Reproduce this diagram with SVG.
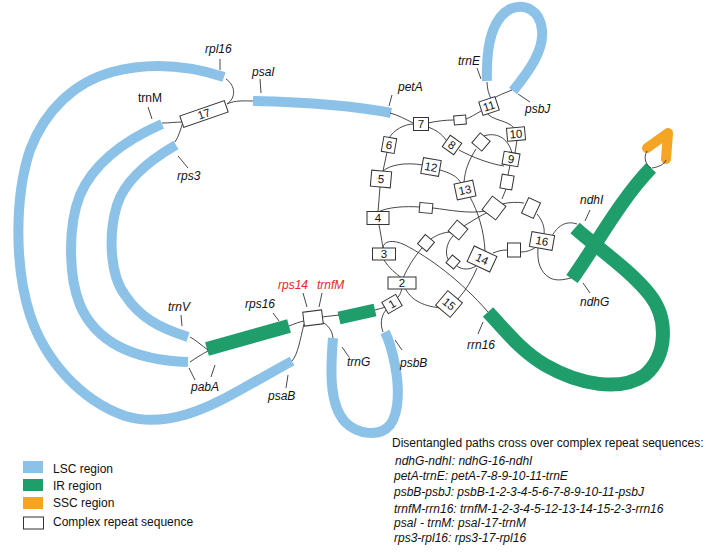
<svg xmlns="http://www.w3.org/2000/svg" width="707" height="553" viewBox="0 0 707 553">
<style>
.lsc{fill:none;stroke:#8cc2e8;stroke-width:10}
.ir{fill:none;stroke:#1f9e6c;stroke-width:14}
.ssc{fill:none;stroke:#f5a524;stroke-width:10;stroke-linecap:round;stroke-linejoin:round}
.bx rect{fill:#fff;stroke:#333;stroke-width:1}
.bx text{font-family:"Liberation Sans",Arial,sans-serif;font-size:11.5px;text-anchor:middle;fill:#111}
.conn path{fill:none;stroke:#333;stroke-width:0.9}
.tick{stroke:#333;stroke-width:0.9}
.lbl{font-family:"Liberation Sans",Arial,sans-serif;font-size:12px;font-style:italic;fill:#111}
.up{font-style:normal}
.red{fill:#e8281e}
.txt{font-family:"Liberation Sans",Arial,sans-serif;font-size:12px;fill:#111}
</style>
<rect width="707" height="553" fill="#fff"/>

<!-- strands -->
<g id="lsc-outer"><path class="lsc" d="M224,77 C190,66 150,62 112,72 C75,82 45,110 30,150 C15,195 14,265 30,315 C45,360 80,400 125,416 C165,428 205,410 240,390 L292,361"/></g>
<g id="lsc-middle"><path class="lsc" d="M162,124 C130,138 95,160 80,195 C68,225 68,275 80,305 C95,340 130,360 188,362"/></g>
<g id="lsc-inner"><path class="lsc" d="M176,145 C150,160 125,180 117,205 C108,235 110,275 125,295 C140,318 160,328 188,337"/></g>
<g id="lsc-psaI"><path class="lsc" d="M253,101 C300,102 350,105 391,113"/></g>
<g id="lsc-trnE-psbJ"><path class="lsc" d="M487,81 C486,50 490,20 510,9 C525,3 540,10 542,30 C544,50 530,70 513,91"/></g>
<g id="lsc-trnG-psbB"><path class="lsc" d="M333,338 C330,375 330,405 345,422 C358,435 380,437 390,425 C400,412 399,385 395,365 C392,350 389,340 385,332"/></g>
<g id="ir-rps16"><path class="ir" d="M207,349 L289,326"/></g>
<g id="ir-trnfM"><path class="ir" style="stroke-width:13" d="M339,318 L375,310"/></g>
<g id="ir-rrn16-ndhI"><path class="ir" d="M575,228 C600,250 630,270 650,295 C668,318 668,355 645,375 C620,392 580,385 545,365 C520,350 505,330 488,312"/></g>
<g id="ir-ndhG"><path class="ir" d="M572,279 C595,247 620,200 651,168"/></g>
<g id="ssc"><path class="ssc" d="M647,148 L668,133 L666,159"/></g>

<!-- connectors -->
<g id="connectors" class="conn">
<path d="M226,79 C236,86 236,98 227,104"/>
<path d="M227,104 C235,100 245,101 253,101"/>
<path d="M162,123 C170,123 176,122 182,122"/>
<path d="M175,142 C179,136 181,128 183,122"/>
<path d="M390,113 C398,115 405,119 413,123"/>
<path d="M428,123 C437,121 446,120 454,120"/>
<path d="M466,119 C471,117 476,114 481,111"/>
<path d="M487,82 C487,89 489,94 491,99"/>
<path d="M512,90 C505,93 498,95 493,99"/>
<path d="M486,112 C492,121 508,120 514,128"/>
<path d="M414,124 C404,124 394,130 389,138"/>
<path d="M387,152 L383,171"/>
<path d="M428,127 C436,130 442,134 446,140"/>
<path d="M459,150 C472,157 490,164 504,166"/>
<path d="M484,136 C495,132 508,137 512,153"/>
<path d="M515,153 L517,140"/>
<path d="M510,165 L508,175"/>
<path d="M506,189 L502,199"/>
<path d="M476,149 C469,160 465,170 464,182"/>
<path d="M383,171 C390,165 405,162 423,165"/>
<path d="M440,170 C450,173 457,176 461,183"/>
<path d="M470,197 C478,212 484,230 485,251"/>
<path d="M380,187 L378,212"/>
<path d="M378,212 C388,207 405,206 420,207"/>
<path d="M433,208 C450,210 468,214 485,211"/>
<path d="M379,225 C381,235 382,242 383,248"/>
<path d="M384,260 C389,268 396,274 402,278"/>
<path d="M383,248 C383,241 393,239 405,245 C430,258 460,280 488,312"/>
<path d="M403,278 C408,267 414,257 422,248"/>
<path d="M431,239 C438,234 445,232 452,232"/>
<path d="M464,226 C472,221 480,216 488,212"/>
<path d="M453,236 C446,243 444,256 450,262"/>
<path d="M457,266 C462,270 470,270 476,266"/>
<path d="M493,253 C498,251 502,250 507,250"/>
<path d="M521,252 C527,252 532,250 536,247"/>
<path d="M477,268 C472,280 466,290 458,299"/>
<path d="M405,288 C410,298 420,306 441,308"/>
<path d="M402,288 C401,293 399,297 396,299"/>
<path d="M502,204 C510,202 517,202 524,203"/>
<path d="M537,214 C542,220 545,227 544,234"/>
<path d="M552,236 C557,227 565,220 577,224"/>
<path d="M538,248 C537,262 540,272 550,278 C556,281 563,280 571,278"/>
<path d="M375,310 C379,309 382,308 386,307"/>
<path d="M386,310 C381,316 380,324 383,332"/>
<path d="M190,337 C196,340 202,346 208,350"/>
<path d="M190,362 C196,358 202,354 208,351"/>
<path d="M289,326 C294,324 299,322 304,321"/>
<path d="M292,361 C298,354 300,340 304,324"/>
<path d="M322,317 L339,315"/>
<path d="M322,322 C328,325 332,330 333,338"/>
<path d="M647,151 C643,158 646,165 651,168"/>
<path d="M666,160 C664,165 658,167 652,168"/>
</g>

<!-- repeat boxes -->
<g id="r1" class="bx" transform="translate(392,304) rotate(-30)"><rect x="-8" y="-6.5" width="16" height="13"/><text y="4">1</text></g>
<g id="r2" class="bx" transform="translate(402,283)"><rect x="-14" y="-6" width="28" height="12"/><text y="4">2</text></g>
<g id="r3" class="bx" transform="translate(384,254)"><rect x="-11.5" y="-6" width="23" height="12"/><text y="4">3</text></g>
<g id="r4" class="bx" transform="translate(378,218)"><rect x="-11" y="-6.5" width="22" height="13"/><text y="4">4</text></g>
<g id="r5" class="bx" transform="translate(381,179) rotate(5)"><rect x="-10" y="-8" width="20" height="16"/><text y="4">5</text></g>
<g id="r6" class="bx" transform="translate(389,145) rotate(10)"><rect x="-6.5" y="-7.5" width="13" height="15"/><text y="4">6</text></g>
<g id="r7" class="bx" transform="translate(421,124)"><rect x="-7.5" y="-6.5" width="15" height="13"/><text y="4">7</text></g>
<g id="r8" class="bx" transform="translate(452,145) rotate(35)"><rect x="-7" y="-7" width="14" height="14"/><text y="4">8</text></g>
<g id="r9" class="bx" transform="translate(511,159) rotate(10)"><rect x="-8" y="-6.5" width="16" height="13"/><text y="4">9</text></g>
<g id="r10" class="bx" transform="translate(516,134) rotate(-5)"><rect x="-9" y="-6.5" width="18" height="13"/><text y="4">10</text></g>
<g id="r11" class="bx" transform="translate(489,106) rotate(-18)"><rect x="-8.5" y="-7" width="17" height="14"/><text y="4">11</text></g>
<g id="r12" class="bx" transform="translate(431,167) rotate(10)"><rect x="-9" y="-8" width="18" height="16"/><text y="4">12</text></g>
<g id="r13" class="bx" transform="translate(465,190) rotate(-12)"><rect x="-9.5" y="-8" width="19" height="16"/><text y="4">13</text></g>
<g id="r14" class="bx" transform="translate(482,259) rotate(25)"><rect x="-12.5" y="-8.5" width="25" height="17"/><text y="4">14</text></g>
<g id="r15" class="bx" transform="translate(449,304) rotate(40)"><rect x="-9.5" y="-9.5" width="19" height="19"/><text y="4">15</text></g>
<g id="r16" class="bx" transform="translate(542,241) rotate(10)"><rect x="-11.5" y="-7.5" width="23" height="15"/><text y="4">16</text></g>
<g id="r17" class="bx" transform="translate(204,114) rotate(-19)"><rect x="-23.5" y="-6" width="47" height="12"/><text y="4">17</text></g>
<g id="rA" class="bx" transform="translate(313,318) rotate(-7)"><rect x="-9.5" y="-7" width="19" height="14"/></g>
<g id="u1" class="bx" transform="translate(460,120) rotate(-5)"><rect x="-6" y="-4.5" width="12" height="9"/></g>
<g id="u2" class="bx" transform="translate(481,142) rotate(40)"><rect x="-6.5" y="-6.5" width="13" height="13"/></g>
<g id="u3" class="bx" transform="translate(507,182) rotate(10)"><rect x="-6" y="-7" width="12" height="14"/></g>
<g id="u4" class="bx" transform="translate(426,208) rotate(5)"><rect x="-6.5" y="-5" width="13" height="10"/></g>
<g id="u5" class="bx" transform="translate(494,208) rotate(37)"><rect x="-8.5" y="-8.5" width="17" height="17"/></g>
<g id="u6" class="bx" transform="translate(531,208) rotate(25)"><rect x="-6.5" y="-8.5" width="13" height="17"/></g>
<g id="u7" class="bx" transform="translate(458,230) rotate(40)"><rect x="-7" y="-7" width="14" height="14"/></g>
<g id="u8" class="bx" transform="translate(426,243) rotate(40)"><rect x="-6" y="-6" width="12" height="12"/></g>
<g id="u9" class="bx" transform="translate(453,262) rotate(40)"><rect x="-5" y="-5" width="10" height="10"/></g>
<g id="u10" class="bx" transform="translate(514,250)"><rect x="-6.5" y="-7" width="13" height="14"/></g>

<!-- gene labels -->
<g id="labels">
<line class="tick" x1="220" y1="59" x2="220" y2="70"/><text class="lbl" x="205" y="53">rpl16</text>
<line class="tick" x1="260" y1="79" x2="261" y2="93"/><text class="lbl" x="252" y="76">psaI</text>
<line class="tick" x1="148" y1="107" x2="152" y2="119"/><text class="lbl up" x="138" y="102">trnM</text>
<line class="tick" x1="178" y1="156" x2="188" y2="168"/><text class="lbl" x="177" y="180">rps3</text>
<line class="tick" x1="392" y1="95" x2="389" y2="106"/><text class="lbl" x="398" y="91">petA</text>
<line class="tick" x1="477" y1="68" x2="481" y2="79"/><text class="lbl" x="480" y="65" text-anchor="end">trnE</text>
<line class="tick" x1="518" y1="94" x2="530" y2="102"/><text class="lbl" x="525" y="113">psbJ</text>
<line class="tick" x1="181" y1="315" x2="182" y2="326"/><text class="lbl" x="168" y="311">trnV</text>
<line class="tick" x1="189" y1="368" x2="195" y2="380"/><line class="tick" x1="215" y1="365" x2="211" y2="377"/><text class="lbl" x="191" y="391">pabA</text>
<line class="tick" x1="273" y1="313" x2="279" y2="321"/><text class="lbl" x="245" y="308">rps16</text>
<line class="tick" x1="303" y1="293" x2="307" y2="307"/><text class="lbl red" x="278" y="289">rps14</text>
<line class="tick" x1="322" y1="293" x2="319" y2="307"/><text class="lbl red" x="317" y="289">trnfM</text>
<line class="tick" x1="342" y1="347" x2="349" y2="357"/><text class="lbl" x="347" y="366">trnG</text>
<line class="tick" x1="395" y1="340" x2="402" y2="350"/><text class="lbl" x="400" y="367">psbB</text>
<line class="tick" x1="288" y1="375" x2="286" y2="388"/><text class="lbl" x="268" y="400">psaB</text>
<line class="tick" x1="483" y1="322" x2="478" y2="334"/><text class="lbl" x="467" y="349">rrn16</text>
<line class="tick" x1="590" y1="210" x2="585" y2="221"/><text class="lbl" x="580" y="204">ndhI</text>
<line class="tick" x1="583" y1="283" x2="590" y2="293"/><text class="lbl" x="580" y="306">ndhG</text>
</g>

<!-- legend -->
<g id="legend" class="txt">
<rect x="23" y="461" width="20" height="12" fill="#8cc2e8"/><text x="53" y="473">LSC region</text>
<rect x="23" y="479" width="20" height="12" fill="#1f9e6c"/><text x="53" y="490">IR region</text>
<rect x="23" y="497" width="20" height="12" fill="#f5a524"/><text x="53" y="507">SSC region</text>
<rect x="23.5" y="517" width="20" height="12" fill="#fff" stroke="#333" stroke-width="1"/><text x="53" y="526">Complex repeat sequence</text>
</g>

<!-- paths text -->
<g id="paths-note" class="txt">
<text x="392" y="447">Disentangled paths cross over complex repeat sequences:</text>
<text x="395" y="465" font-style="italic">ndhG-ndhI: ndhG-16-ndhI</text>
<text x="394" y="480" font-style="italic">petA-trnE: petA-7-8-9-10-11-trnE</text>
<text x="394" y="496" font-style="italic">psbB-psbJ: psbB-1-2-3-4-5-6-7-8-9-10-11-psbJ</text>
<text x="394" y="513" font-style="italic">trnfM-rrn16: trnfM-1-2-3-4-5-12-13-14-15-2-3-rrn16</text>
<text x="394" y="527" font-style="italic">psaI - trnM: psaI-17-trnM</text>
<text x="394" y="542" font-style="italic">rps3-rpl16: rps3-17-rpl16</text>
</g>
</svg>
